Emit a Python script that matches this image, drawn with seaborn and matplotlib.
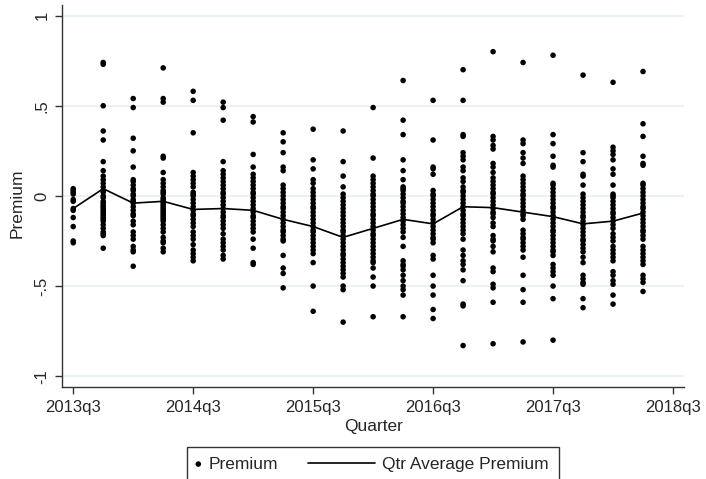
import pandas as pd
import matplotlib
matplotlib.use("Agg")
import matplotlib.pyplot as plt
import seaborn as sns
from matplotlib.legend_handler import HandlerBase
from matplotlib.lines import Line2D

# Quarter labels, one per column of points
quarters = ["2013q3", "2013q4", "2014q1", "2014q2", "2014q3", "2014q4",
            "2015q1", "2015q2", "2015q3", "2015q4", "2016q1", "2016q2",
            "2016q3", "2016q4", "2017q1", "2017q2", "2017q3", "2017q4",
            "2018q1", "2018q2"]

p_2013q3 = [0.04, 0.03, 0.02, 0.01, -0.02, -0.03, -0.07, -0.08, -0.12, -0.17, -0.25, -0.26]
p_2013q4 = [0.74, 0.73, 0.50, 0.36, 0.31, 0.19, 0.14, 0.11, 0.09, 0.07, 0.05, 0.03, 0.02, 0.0,
            -0.01, -0.03, -0.04, -0.05, -0.06, -0.07, -0.08, -0.09, -0.10, -0.11, -0.12, -0.13,
            -0.14, -0.16, -0.18, -0.20, -0.21, -0.22, -0.29]
p_2014q1 = [0.54, 0.49, 0.32, 0.25, 0.16, 0.09, 0.08, 0.06, 0.04, 0.03, 0.01, 0.0, -0.02, -0.03,
            -0.04, -0.06, -0.08, -0.10, -0.11, -0.14, -0.16, -0.20, -0.22, -0.24, -0.28, -0.30,
            -0.31, -0.39]
p_2014q2 = [0.71, 0.54, 0.52, 0.22, 0.21, 0.13, 0.09, 0.07, 0.05, 0.03, 0.02, 0.01, -0.01, -0.02,
            -0.03, -0.04, -0.05, -0.06, -0.07, -0.08, -0.09, -0.10, -0.11, -0.12, -0.13, -0.14,
            -0.16, -0.18, -0.20, -0.23, -0.25, -0.26, -0.29, -0.31]
p_2014q3 = [0.58, 0.53, 0.35, 0.13, 0.11, 0.09, 0.07, 0.05, 0.02, 0.01, 0.0, -0.02, -0.04, -0.06,
            -0.08, -0.10, -0.11, -0.13, -0.15, -0.17, -0.20, -0.22, -0.24, -0.27, -0.30, -0.32,
            -0.34, -0.36]
p_2014q4 = [0.52, 0.49, 0.42, 0.19, 0.14, 0.12, 0.10, 0.08, 0.06, 0.04, 0.02, 0.01, -0.01, -0.03,
            -0.05, -0.07, -0.09, -0.11, -0.12, -0.14, -0.16, -0.18, -0.21, -0.24, -0.26, -0.28,
            -0.30, -0.33, -0.35]
p_2015q1 = [0.44, 0.41, 0.23, 0.16, 0.12, 0.10, 0.08, 0.06, 0.04, 0.02, 0.01, -0.01, -0.03, -0.05,
            -0.07, -0.09, -0.11, -0.12, -0.14, -0.16, -0.18, -0.20, -0.24, -0.29, -0.37, -0.38]
p_2015q2 = [0.35, 0.30, 0.24, 0.16, 0.14, 0.06, 0.04, 0.02, 0.0, -0.02, -0.04, -0.06, -0.07, -0.09,
            -0.11, -0.13, -0.15, -0.17, -0.19, -0.20, -0.22, -0.24, -0.25, -0.33, -0.40, -0.43,
            -0.51]
p_2015q3 = [0.37, 0.20, 0.15, 0.09, 0.07, 0.04, 0.02, 0.0, -0.02, -0.04, -0.06, -0.07, -0.09,
            -0.11, -0.13, -0.15, -0.17, -0.19, -0.20, -0.22, -0.24, -0.26, -0.28, -0.30, -0.32,
            -0.37, -0.50, -0.64]
p_2015q4 = [0.36, 0.19, 0.11, 0.05, 0.01, -0.01, -0.03, -0.05, -0.07, -0.09, -0.11, -0.13, -0.15,
            -0.17, -0.19, -0.20, -0.22, -0.24, -0.26, -0.28, -0.30, -0.32, -0.33, -0.35, -0.37,
            -0.39, -0.41, -0.43, -0.45, -0.50, -0.52, -0.70]
p_2016q1 = [0.49, 0.21, 0.11, 0.09, 0.07, 0.05, 0.03, 0.01, 0.0, -0.02, -0.04, -0.06, -0.08,
            -0.10, -0.11, -0.13, -0.15, -0.17, -0.19, -0.21, -0.22, -0.24, -0.26, -0.28, -0.30,
            -0.32, -0.34, -0.36, -0.37, -0.40, -0.45, -0.50, -0.67]
p_2016q2 = [0.64, 0.42, 0.34, 0.20, 0.14, 0.09, 0.05, 0.04, 0.03, 0.01, -0.01, -0.03, -0.04,
            -0.06, -0.08, -0.10, -0.12, -0.14, -0.16, -0.18, -0.20, -0.23, -0.28, -0.36, -0.38,
            -0.39, -0.41, -0.44, -0.47, -0.50, -0.52, -0.55, -0.67]
p_2016q3 = [0.53, 0.31, 0.16, 0.15, 0.12, 0.03, 0.01, 0.0, -0.02, -0.04, -0.06, -0.08, -0.10,
            -0.11, -0.13, -0.15, -0.17, -0.19, -0.21, -0.23, -0.24, -0.26, -0.33, -0.35, -0.44,
            -0.50, -0.55, -0.63, -0.68]
p_2016q4 = [0.70, 0.53, 0.34, 0.33, 0.24, 0.22, 0.20, 0.16, 0.14, 0.10, 0.08, 0.05, 0.03, 0.02,
            0.0, -0.02, -0.04, -0.06, -0.08, -0.10, -0.11, -0.13, -0.15, -0.17, -0.19, -0.21,
            -0.24, -0.30, -0.33, -0.36, -0.38, -0.41, -0.47, -0.60, -0.61, -0.83]
p_2017q1 = [0.80, 0.33, 0.31, 0.28, 0.26, 0.18, 0.16, 0.13, 0.10, 0.08, 0.06, 0.04, 0.02, 0.01,
            -0.01, -0.03, -0.05, -0.07, -0.09, -0.10, -0.12, -0.15, -0.17, -0.22, -0.24, -0.25,
            -0.28, -0.31, -0.40, -0.42, -0.49, -0.51, -0.59, -0.82]
p_2017q2 = [0.74, 0.31, 0.29, 0.24, 0.21, 0.18, 0.11, 0.09, 0.07, 0.05, 0.03, 0.01, 0.0, -0.02,
            -0.04, -0.06, -0.08, -0.10, -0.11, -0.13, -0.19, -0.21, -0.23, -0.24, -0.26, -0.28,
            -0.30, -0.34, -0.44, -0.52, -0.59, -0.81]
p_2017q3 = [0.78, 0.34, 0.29, 0.22, 0.17, 0.16, 0.07, 0.06, 0.04, 0.02, 0.0, -0.02, -0.04, -0.06,
            -0.07, -0.09, -0.11, -0.13, -0.15, -0.17, -0.19, -0.20, -0.22, -0.24, -0.26, -0.28,
            -0.30, -0.31, -0.33, -0.38, -0.40, -0.42, -0.44, -0.50, -0.57, -0.80]
p_2017q4 = [0.67, 0.24, 0.19, 0.12, 0.11, 0.06, 0.01, -0.01, -0.03, -0.05, -0.07, -0.09, -0.11,
            -0.12, -0.14, -0.16, -0.18, -0.20, -0.22, -0.24, -0.25, -0.27, -0.29, -0.31, -0.34,
            -0.37, -0.44, -0.46, -0.48, -0.49, -0.57, -0.62]
p_2018q1 = [0.63, 0.27, 0.25, 0.23, 0.20, 0.15, 0.12, 0.06, 0.01, 0.0, -0.01, -0.03, -0.05, -0.07,
            -0.09, -0.10, -0.12, -0.14, -0.16, -0.18, -0.21, -0.23, -0.25, -0.28, -0.30, -0.32,
            -0.34, -0.36, -0.42, -0.44, -0.47, -0.49, -0.55, -0.60]
p_2018q2 = [0.69, 0.40, 0.33, 0.22, 0.18, 0.17, 0.07, 0.06, 0.04, 0.02, 0.0, -0.02, -0.04, -0.06,
            -0.07, -0.09, -0.11, -0.13, -0.15, -0.17, -0.19, -0.20, -0.22, -0.24, -0.28, -0.30,
            -0.32, -0.34, -0.36, -0.38, -0.44, -0.46, -0.48, -0.53]

# Quarterly average premium (the line)
qtr_avg = [-0.07, 0.04, -0.04, -0.03, -0.075, -0.07, -0.08, -0.13, -0.17, -0.23,
           -0.18, -0.13, -0.155, -0.06, -0.065, -0.09, -0.115, -0.155, -0.14, -0.095]

# x tick labels
tick_labels = ["2013q3", "2014q3", "2015q3", "2016q3", "2017q3", "2018q3"]

all_q = [p_2013q3, p_2013q4, p_2014q1, p_2014q2, p_2014q3, p_2014q4, p_2015q1,
         p_2015q2, p_2015q3, p_2015q4, p_2016q1, p_2016q2, p_2016q3, p_2016q4,
         p_2017q1, p_2017q2, p_2017q3, p_2017q4, p_2018q1, p_2018q2]

rows = []
for i, vals in enumerate(all_q):
    for v in vals:
        rows.append({"qnum": i, "Premium": v})
df = pd.DataFrame(rows)
avg_df = pd.DataFrame({"qnum": range(len(quarters)), "avg": qtr_avg})


# legend handler: long line reaching back into the column gap (Stata look)
class LongLine(HandlerBase):
    def __init__(self, length):
        super().__init__()
        self.length = length

    def create_artists(self, legend, orig_handle, xdescent, ydescent,
                       width, height, fontsize, trans):
        y = height / 2 - ydescent
        x1 = width - xdescent + 1
        ln = Line2D([x1 - self.length, x1], [y, y], color="black", lw=1.2)
        ln.set_transform(trans)
        return [ln]


sns.set_style("white")
plt.rcParams['font.family'] = ['Liberation Sans', 'DejaVu Sans']

fig = plt.figure(figsize=(7.06, 4.79), dpi=100)
ax = fig.add_axes([0.088, 0.192, 0.881, 0.798])

# light horizontal grid like Stata
for g in [-1, -0.5, 0, 0.5, 1]:
    ax.axhline(g, color="#e8f0f2", lw=1.2, zorder=0)

sns.scatterplot(data=df, x="qnum", y="Premium", ax=ax, color="black", s=16,
                edgecolor="none", label="Premium", legend=False, zorder=3)
sns.lineplot(data=avg_df, x="qnum", y="avg", ax=ax, color="black", lw=1.2,
             label="Qtr Average Premium", legend=False, zorder=4)

ax.set_xlim(-0.37, 20.37)
ax.set_ylim(-1.06, 1.06)
ax.set_xticks(range(0, 21, 4))
ax.set_xticklabels(tick_labels, fontsize=12)
ax.set_yticks([-1, -0.5, 0, 0.5, 1])
ax.set_yticklabels(["-1", "-.5", "0", ".5", "1"], fontsize=12, rotation=90, va="center")
ax.set_xlabel("Quarter", fontsize=12.5, labelpad=3)
ax.set_ylabel("Premium", fontsize=12.5, labelpad=5)
ax.yaxis.set_label_coords(-0.06, 0.48)

for side in ["top", "right"]:
    ax.spines[side].set_visible(False)
for side in ["left", "bottom"]:
    ax.spines[side].set_color("#333333")
    ax.spines[side].set_linewidth(1.0)
ax.tick_params(axis="both", which="both", direction="out", length=5, width=1,
               color="#333333", bottom=True, left=True, pad=4)

handles, labels = ax.get_legend_handles_labels()
leg = fig.legend(handles, labels, loc="upper center", bbox_to_anchor=(0.528, 0.067),
                 ncol=2, frameon=True, fancybox=False, fontsize=12.5,
                 handlelength=0.2, handletextpad=0.5, columnspacing=5.3,
                 borderpad=0.55, borderaxespad=0, scatterpoints=1,
                 handler_map={handles[1]: LongLine(48)})
leg.get_frame().set_edgecolor("black")
leg.get_frame().set_linewidth(1.0)

fig.savefig("out.png", dpi=100)
